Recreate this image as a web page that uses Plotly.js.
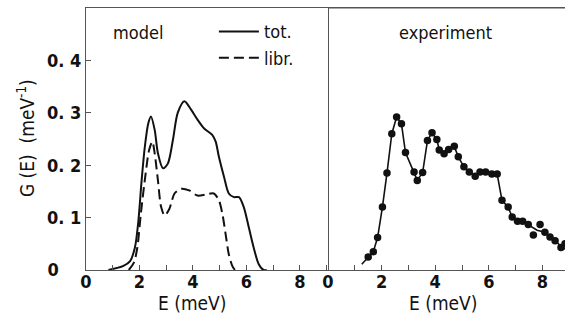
<!DOCTYPE html>
<html><head><meta charset="utf-8">
<script src="https://cdn.plot.ly/plotly-3.0.1.min.js"></script>
<style>body{margin:0;background:#fff}#plot{width:565px;height:322px}</style>
</head><body><div id="plot"></div>
<script>
// Model (left panel)
const totE = [0.84,1.4,1.65,1.83,1.96,2.08,2.2,2.33,2.43,2.57,2.69,2.88,3.06,3.25,3.43,3.68,3.93,4.17,4.42,4.72,4.85,4.97,5.16,5.34,5.53,5.72,5.9,6.09,6.27,6.46,6.64,6.76];
const totG = [0,0.008,0.017,0.043,0.094,0.171,0.235,0.28,0.293,0.267,0.223,0.194,0.203,0.248,0.30,0.322,0.306,0.287,0.27,0.258,0.245,0.216,0.178,0.146,0.139,0.139,0.12,0.081,0.043,0.011,0,0];
const librE = [1.6,1.79,1.92,2.05,2.23,2.36,2.48,2.57,2.69,2.81,2.94,3.12,3.31,3.55,3.86,4.17,4.48,4.78,4.97,5.1,5.22,5.34,5.47,5.57];
const librG = [0,0.014,0.043,0.107,0.184,0.229,0.245,0.222,0.171,0.12,0.104,0.117,0.146,0.155,0.152,0.142,0.144,0.146,0.133,0.107,0.069,0.03,0.008,0];
// Experiment (right panel)
const expE = [1.5,1.69,1.85,2.03,2.2,2.38,2.56,2.74,2.89,3.21,3.33,3.53,3.71,3.88,4.06,4.15,4.33,4.5,4.71,4.86,5.07,5.27,5.49,5.67,5.88,6.11,6.31,6.49,6.72,6.87,7.07,7.26,7.47,7.66,7.91,8.09,8.28,8.47,8.69,8.84];
const expG = [0.025,0.035,0.062,0.12,0.185,0.26,0.292,0.279,0.224,0.187,0.171,0.186,0.247,0.262,0.249,0.229,0.222,0.23,0.236,0.216,0.197,0.187,0.179,0.187,0.187,0.183,0.183,0.133,0.12,0.101,0.093,0.093,0.087,0.067,0.087,0.072,0.063,0.056,0.043,0.05];
const fitE = [1.26,1.5,1.69,1.85,2.03,2.2,2.38,2.56,2.74,2.89,3.21,3.33,3.53,3.71,3.88,4.06,4.15,4.33,4.5,4.71,4.86,5.07,5.27,5.49,5.67,5.88,6.11,6.31,6.49,6.72,6.87,7.07,7.26,7.47,7.8,8.09,8.28,8.47,8.69,8.84];
const fitG = [0.011,0.025,0.035,0.062,0.12,0.185,0.26,0.292,0.279,0.224,0.187,0.171,0.186,0.247,0.262,0.249,0.229,0.222,0.23,0.236,0.216,0.197,0.187,0.179,0.187,0.187,0.183,0.183,0.133,0.12,0.101,0.093,0.093,0.087,0.076,0.072,0.063,0.056,0.045,0.04];
const xTickVals = [0,2,4,6,8];
const xTickText = ['0','2','4','6','8'];
const yTickVals = [0,0.1,0.2,0.3,0.4];
const yTickText = ['0\u00a0\u00a0\u00a0\u00a0','0. 1','0. 2','0. 3','0. 4'];

const FONT = '"DejaVu Sans Condensed", "Liberation Sans Narrow", "Arial Narrow", sans-serif';
const axisCol = '#555';

const traces = [
  {x: totE, y: totG, xaxis:'x', yaxis:'y', mode:'lines', name:'tot.', legendgroup:'a',
   line:{color:'#111', width:2, shape:'spline', smoothing:0.8}},
  {x: librE, y: librG, xaxis:'x', yaxis:'y', mode:'lines', name:'libr.', legendgroup:'b',
   line:{color:'#111', width:2, shape:'spline', smoothing:0.8, dash:'10px,5px'}},
  {x: fitE, y: fitG, xaxis:'x2', yaxis:'y2', mode:'lines', showlegend:false,
   line:{color:'#111', width:1.6}},
  {x: expE, y: expG, xaxis:'x2', yaxis:'y2', mode:'markers', showlegend:false,
   marker:{color:'#111', size:7.5}}
];

const xCommon = {
  tickvals: xTickVals, ticktext: xTickText, ticks:'inside', ticklen:5, tickcolor:axisCol, tickwidth:1,
  minor:{dtick:1, tick0:1, ticks:'inside', ticklen:5, tickcolor:axisCol, tickwidth:1, showgrid:false},
  showline:true, linecolor:axisCol, linewidth:1, mirror:true, showgrid:false, zeroline:false,
  tickfont:{family:FONT, size:18, color:'#111', weight:'bold'}, ticklabelstandoff:-5
};

const layout = {
  width:565, height:322,
  margin:{l:86, r:0, t:8, b:52},
  paper_bgcolor:'#fff', plot_bgcolor:'#fff',
  showlegend:true,
  legend:{x:0.267, y:0.98, xanchor:'left', yanchor:'top', bgcolor:'rgba(0,0,0,0)',
    font:{family:FONT, size:18, color:'#111'}, tracegroupgap:0, itemwidth:40},
  xaxis: Object.assign({}, xCommon, {domain:[0, 242/479], range:[0, 9.05]}),
  xaxis2: Object.assign({}, xCommon, {domain:[242/479, 1], range:[0, 8.84], anchor:'y2'}),
  yaxis: {range:[0,0.5], tickvals:yTickVals, ticktext:yTickText, ticks:'inside', ticklen:5, tickcolor:axisCol,
    showline:true, linecolor:axisCol, linewidth:1, mirror:true, showgrid:false, zeroline:false,
    tickfont:{family:FONT, size:18, color:'#111', weight:'bold'}, ticklabelstandoff:0},
  yaxis2: {range:[0,0.5], anchor:'x2', showticklabels:false, ticks:'', showline:false, showgrid:false, zeroline:false},
  shapes: [
    {type:'line', xref:'x2 domain', yref:'y2 domain', x0:0, x1:1, y0:1, y1:1, line:{color:axisCol, width:1}}
  ],
  annotations: [
    {text:'model', xref:'x', yref:'y', x:0.95, y:0.454, xanchor:'left', yanchor:'middle', showarrow:false,
     font:{family:FONT, size:18, color:'#111'}},
    {text:'experiment', xref:'x2', yref:'y2', x:4.4, y:0.454, xanchor:'center', yanchor:'middle', showarrow:false,
     font:{family:FONT, size:18, color:'#111'}},
    {text:'E (meV)', xref:'x', yref:'paper', x:3.95, y:-0.125, xanchor:'center', yanchor:'middle', showarrow:false,
     font:{family:FONT, size:19, color:'#111'}},
    {text:'E (meV)', xref:'x2', yref:'paper', x:4.3, y:-0.125, xanchor:'center', yanchor:'middle', showarrow:false,
     font:{family:FONT, size:19, color:'#111'}},
    {text:'G (E)\u00a0\u00a0(meV<sup>-1</sup>)', xref:'paper', yref:'paper', x:-0.124, y:0.502, textangle:-90,
     xanchor:'center', yanchor:'middle', showarrow:false, font:{family:FONT, size:19, color:'#111'}}
  ]
};

Plotly.newPlot('plot', traces, layout, {displayModeBar:false, staticPlot:true});
</script>
</body></html>
